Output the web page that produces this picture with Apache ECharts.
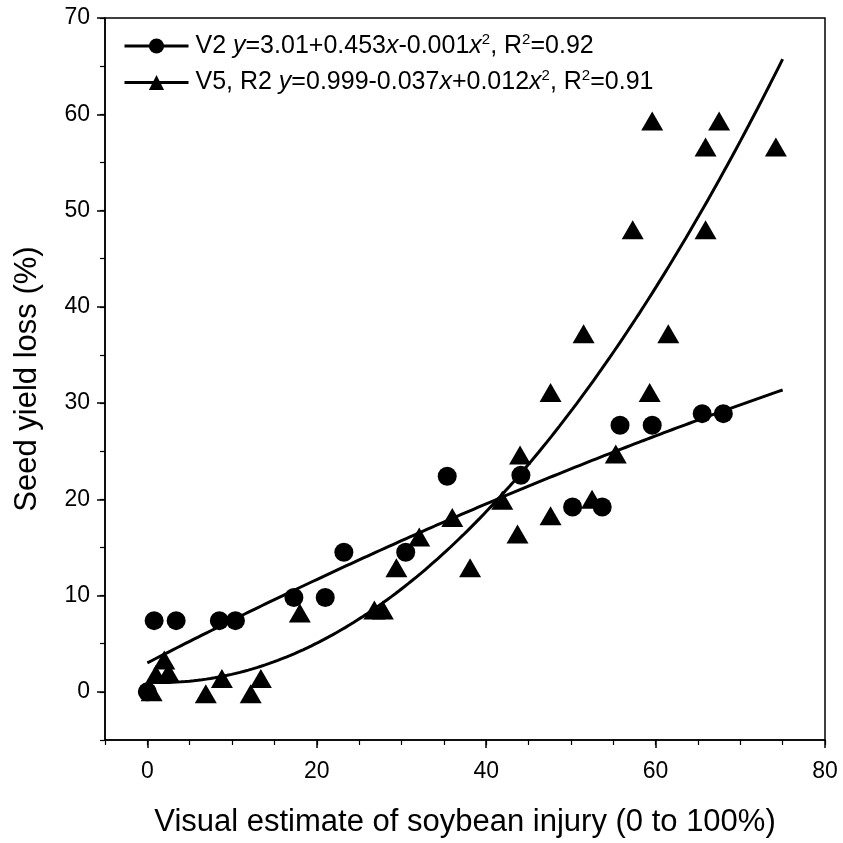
<!DOCTYPE html>
<html>
<head>
<meta charset="utf-8">
<script src="https://cdn.jsdelivr.net/npm/echarts@6/dist/echarts.min.js"></script>
<style>html,body{margin:0;padding:0;background:#fff}#c{width:843px;height:843px}</style>
</head>
<body>
<div id="c"></div>
<script>
// V2 observations (circles)
const v2X = [0, 0.8, 3.4, 8.5, 10.4, 17.3, 21.0, 23.2, 30.5, 35.4, 44.1, 50.2, 53.7, 55.8, 59.6, 65.5, 68.0];
const v2Y = [0, 7.4, 7.4, 7.4, 7.4, 9.8, 9.8, 14.5, 14.5, 22.4, 22.5, 19.2, 19.2, 27.7, 27.7, 28.9, 28.9];
// V5, R2 observations (triangles)
const v5X = [0.5, 1.0, 2.0, 2.5, 6.9, 8.8, 12.2, 13.4, 18.0, 26.8, 27.8, 29.4, 32.1, 36.0, 38.1, 41.9, 43.7, 44.0, 47.6, 47.6, 51.5, 52.5, 55.3, 57.3, 59.3, 59.6, 61.5, 65.9, 65.9, 67.5, 74.2];
const v5Y = [0.0, 1.8, 3.3, 2.0, -0.2, 1.4, -0.2, 1.4, 8.2, 8.5, 8.5, 12.9, 16.1, 18.1, 12.9, 19.9, 16.4, 24.6, 18.3, 31.1, 37.2, 20.0, 24.7, 48.0, 31.1, 59.3, 37.2, 48.0, 56.6, 59.3, 56.6];
// Fitted quadratic coefficients from the legend equations [a, b, c] : y = a + b x + c x^2
const v2Coef = [3.01, 0.453, -0.001];
const v5Coef = [0.999, -0.037, 0.012];
const v2Range = [0, 75];
const v5Range = [0.5, 75];
// Tick labels
const xTicks = [0, 20, 40, 60, 80];
const yTicks = [0, 10, 20, 30, 40, 50, 60, 70];
const legendNames = ['V2', 'V5, R2'];

function fitCurve(coef, range) {
  const pts = [];
  const n = 150;
  for (let i = 0; i <= n; i++) {
    const x = range[0] + (range[1] - range[0]) * i / n;
    pts.push([x, coef[0] + coef[1] * x + coef[2] * x * x]);
  }
  return pts;
}
const zip = (a, b) => a.map((v, i) => [v, b[i]]);

// layout (px)
const L = 105, R = 18, T = 18, B = 103;
const plotW = 843 - L - R, plotH = 843 - T - B;
const xMin = -5, xMax = 80, yMin = -5, yMax = 70;
const x0px = L + (0 - xMin) / (xMax - xMin) * plotW;
const y0px = T + (yMax - 0) / (yMax - yMin) * plotH;

const font = 'Liberation Sans, Arial, sans-serif';
const rich = {
  n: { fontSize: 25, fontFamily: font, color: '#000' },
  i: { fontSize: 25, fontFamily: font, color: '#000', fontStyle: 'italic' },
  s: { fontSize: 15, fontFamily: font, color: '#000', padding: [0, 0, 13, 0] }
};
const legendText = {};
legendText[legendNames[0]] = '{n|V2 }{i|y}{n|=3.01+0.453}{i|x}{n|-0.001}{i|x}{s|2}{n|, R}{s|2}{n|=0.92}';
legendText[legendNames[1]] = '{n|V5, R2 }{i|y}{n|=0.999-0.037}{i|x}{n|+0.012}{i|x}{s|2}{n|, R}{s|2}{n|=0.91}';

const chart = echarts.init(document.getElementById('c'), null, { renderer: 'canvas' });
chart.setOption({
  animation: false,
  backgroundColor: '#fff',
  grid: [
    { left: L, right: R, top: T, bottom: B, show: true, borderColor: '#000', borderWidth: 1.5, backgroundColor: 'transparent' },
    { left: x0px, right: R, top: T, bottom: 843 - y0px, show: false }
  ],
  legend: {
    data: legendNames,
    orient: 'vertical',
    left: 118, top: 27,
    itemWidth: 64, itemHeight: 19, itemGap: 10,
    lineStyle: { width: 3 },
    formatter: name => legendText[name],
    textStyle: { rich: rich, fontSize: 25, fontFamily: font, padding: [0, 0, 0, 2] },
    selectedMode: false
  },
  xAxis: [
    {
      type: 'value', gridIndex: 0, min: xMin, max: xMax, interval: 5,
      axisLine: { show: true, onZero: false, lineStyle: { color: '#000', width: 1.5 } },
      axisTick: { show: true, inside: false, length: 5, lineStyle: { color: '#000', width: 1.2 } },
      axisLabel: { show: false },
      splitLine: { show: false },
      name: 'Visual estimate of soybean injury (0 to 100%)',
      nameLocation: 'middle', nameGap: 67,
      nameTextStyle: { fontSize: 31, fontFamily: font, color: '#000' }
    },
    {
      type: 'value', gridIndex: 1, min: 0, max: 80, interval: 20, offset: 740 - y0px,
      axisLine: { show: false, onZero: false },
      axisTick: { show: true, inside: false, length: 8, lineStyle: { color: '#000', width: 1.5 } },
      axisLabel: { show: true, margin: 20, fontSize: 23, fontFamily: font, color: '#000',
        formatter: v => (xTicks.indexOf(v) >= 0 ? String(v) : '') },
      splitLine: { show: false }
    }
  ],
  yAxis: [
    {
      type: 'value', gridIndex: 0, min: yMin, max: yMax, interval: 5,
      axisLine: { show: true, onZero: false, lineStyle: { color: '#000', width: 1.5 } },
      axisTick: { show: true, inside: false, length: 5, lineStyle: { color: '#000', width: 1.2 } },
      axisLabel: { show: false },
      splitLine: { show: false },
      name: 'Seed yield loss (%)',
      nameLocation: 'middle', nameGap: 62,
      nameTextStyle: { fontSize: 31, fontFamily: font, color: '#000' }
    },
    {
      type: 'value', gridIndex: 1, min: 0, max: 70, interval: 10, offset: x0px - L,
      axisLine: { show: false, onZero: false },
      axisTick: { show: true, inside: false, length: 8, lineStyle: { color: '#000', width: 1.5 } },
      axisLabel: { show: true, margin: 15, fontSize: 23, fontFamily: font, color: '#000',
        formatter: v => (yTicks.indexOf(v) >= 0 ? String(v) : '') },
      splitLine: { show: false }
    }
  ],
  series: [
    {
      name: legendNames[0], type: 'line', xAxisIndex: 0, yAxisIndex: 0,
      data: fitCurve(v2Coef, v2Range), showSymbol: false, symbol: 'circle', symbolSize: 18,
      itemStyle: { color: '#000' }, lineStyle: { color: '#000', width: 3 }, z: 3
    },
    {
      name: legendNames[1], type: 'line', xAxisIndex: 0, yAxisIndex: 0,
      data: fitCurve(v5Coef, v5Range), showSymbol: false, symbol: 'triangle', symbolSize: 19,
      itemStyle: { color: '#000' }, lineStyle: { color: '#000', width: 3 }, z: 3
    },
    {
      name: 'V2pts', type: 'scatter', xAxisIndex: 0, yAxisIndex: 0,
      data: zip(v2X, v2Y), symbol: 'circle', symbolSize: 19,
      itemStyle: { color: '#000', opacity: 1 }, z: 4
    },
    {
      name: 'V5pts', type: 'scatter', xAxisIndex: 0, yAxisIndex: 0,
      data: zip(v5X, v5Y), symbol: 'triangle', symbolSize: [22, 19],
      itemStyle: { color: '#000', opacity: 1 }, z: 4
    },
    { name: 'axes2', type: 'scatter', xAxisIndex: 1, yAxisIndex: 1, data: [] }
  ]
});
</script>
</body>
</html>
